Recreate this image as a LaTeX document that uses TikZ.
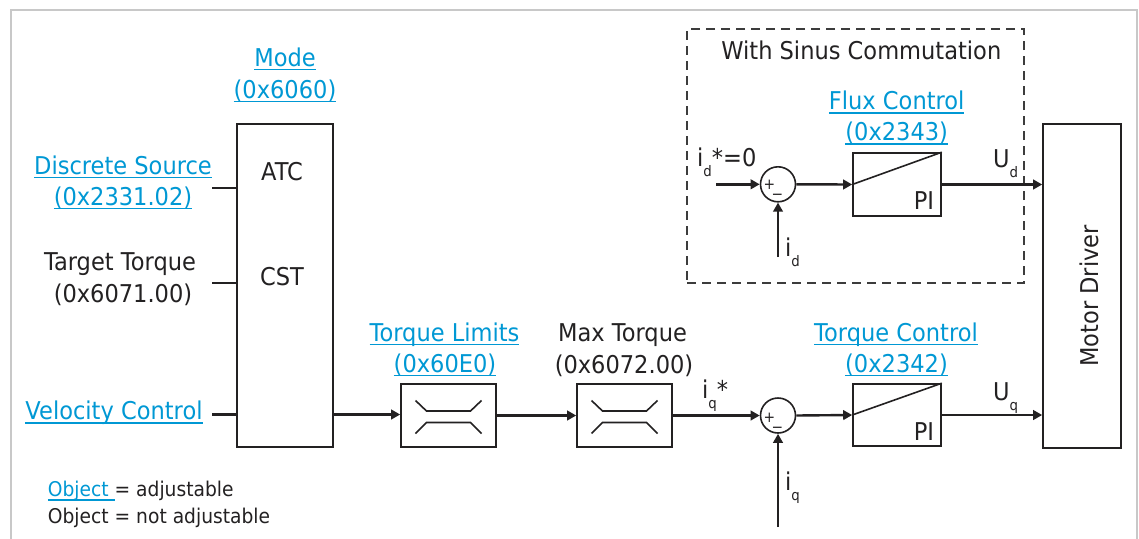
\documentclass[tikz,border=0pt]{standalone}
\usepackage{fontspec}
\setmainfont[FakeStretch=0.92]{DejaVu Sans}
\usetikzlibrary{arrows.meta,calc}
\definecolor{lnkblue}{RGB}{0,152,212}
\definecolor{ink}{RGB}{35,33,34}
\definecolor{framegray}{RGB}{200,200,200}
\definecolor{dashgray}{RGB}{60,60,60}
\newcommand{\ulnk}[1]{\setbox0=\hbox{#1}\rlap{\rule[-4.2pt]{\wd0}{1.6pt}}\box0}
\newcommand{\sbs}[1]{\raisebox{-10pt}{\fontsize{14.5}{14.5}\selectfont #1}}
\begin{document}
\begin{tikzpicture}[x=1pt,y=-1pt,
  txt/.style={font=\fontsize{24.5}{30}\selectfont, text=ink, inner sep=0pt, anchor=base},
  link/.style={txt, text=lnkblue},
  legend/.style={font=\fontsize{20.3}{24}\selectfont, text=ink, inner sep=0pt, anchor=base west},
  pm/.style={font=\fontsize{15}{15}\selectfont, text=ink, inner sep=0pt, anchor=base},
  blk/.style={draw=ink, line width=1.6pt, inner sep=0pt, fill=white},
  sumc/.style={circle, draw=ink, line width=1.6pt, inner sep=0pt, minimum size=35pt, fill=white},
  conn/.style={line width=2.4pt, draw=ink},
  arr/.style={conn, -{Triangle[length=9pt,width=9.5pt]}},
  sym/.style={line width=1.6pt, draw=ink},
  dashbox/.style={draw=dashgray, line width=1.6pt, dash pattern=on 9pt off 6pt, inner sep=0pt}
]
\useasboundingbox (0,0) rectangle (1139,538);
\draw[framegray, line width=2pt] (11,560) -- (11,10) -- (1137,10) -- (1137,560);

% dashed region
\node[dashbox, minimum width=337pt, minimum height=254pt] (sinus) at (855.5,156) {};
\node[txt] (wsc) at (861.3,59.3) {With Sinus Commutation};

% mode block
\node[blk, minimum width=96pt, minimum height=323pt] (mode) at (285,285.5) {};
\node[link] (modeA) at (285,66) {\ulnk{Mode}};
\node[link] (modeB) at (285,98) {\ulnk{(0x6060)}};
\node[txt] (atc) at (282,180) {ATC};
\node[txt] (cst) at (282,285.5) {CST};

% inputs
\node[link] (dsA) at (123,174) {\ulnk{Discrete Source}};
\node[link] (dsB) at (123,205) {\ulnk{(0x2331.02)}};
\node[txt] (ttA) at (120,270) {Target Torque};
\node[txt] (ttB) at (123,302) {(0x6071.00)};
\node[link] (vc) at (114,419.3) {\ulnk{Velocity Control}};
\coordinate (inDS) at (212,188);
\coordinate (inTT) at (212,282.7);
\coordinate (inVC) at (212,414.5);
\draw[conn] (inDS) -- (inDS -| mode.west);
\draw[conn] (inTT) -- (inTT -| mode.west);
\draw[conn] (inVC) -- (inVC -| mode.west);

% limiter blocks
\node[blk, minimum width=95pt, minimum height=63pt] (lim) at (448.5,415.5) {};
\node[blk, minimum width=95pt, minimum height=63pt] (maxt) at (624.5,415.5) {};
\foreach \b in {lim,maxt} {
  \draw[sym] ($(\b.center)+(-33,-15)$) -- ++(11,10.5) -- ++(44,0) -- ++(11,-10.5);
  \draw[sym] ($(\b.center)+(-33,18)$) -- ++(11,-11) -- ++(44,0) -- ++(11,11);
}
\node[link] (tlA) at (444.5,341) {\ulnk{Torque Limits}};
\node[link] (tlB) at (445,372) {\ulnk{(0x60E0)}};
\node[txt] (mtA) at (622.5,341) {Max Torque};
\node[txt] (mtB) at (624,373) {(0x6072.00)};

% q summing junction
\node[sumc] (sq) at (778,415.5) {};
\node[pm] (sqp) at (769.3,422.3) {+};
\node[pm] (sqm) at (777.5,432.5) {−};
\node[txt, anchor=base west] (iqs) at (702,398.3) {i\sbs{q}*};
\coordinate (iqin) at (778,527);
\node[txt, anchor=base west] (iql) at (785,490.7) {i\sbs{q}};

% torque control
\node[blk, minimum width=88pt, minimum height=62pt] (tc) at (897,415) {};
\draw[sym] (tc.west) -- (tc.north east);
\node[txt] (tcPI) at (924,440.7) {PI};
\node[link] (tcA) at (896,341) {\ulnk{Torque Control}};
\node[link] (tcB) at (896.5,372) {\ulnk{(0x2342)}};

% motor driver
\node[blk, minimum width=78pt, minimum height=324pt] (md) at (1082,286) {};
\node[txt, rotate=90, anchor=base] (mdt) at (1098,296) {Motor Driver};
\node[txt, anchor=base west] (uq) at (993,400) {U\sbs{q}};

% flux section
\node[link] (fcA) at (896.7,109.3) {\ulnk{Flux Control}};
\node[link] (fcB) at (896.7,140.5) {\ulnk{(0x2343)}};
\node[blk, minimum width=88pt, minimum height=63pt] (fc) at (897,184.5) {};
\draw[sym] (fc.west) -- (fc.north east);
\node[txt] (fcPI) at (924,209) {PI};
\node[sumc] (sd) at (778,184.3) {};
\node[pm] (sdp) at (769.5,189.5) {+};
\node[pm] (sdm) at (777.5,199.8) {−};
\coordinate (idin) at (716,184.3);
\node[txt, anchor=base west] (ids) at (697,166.7) {i\sbs{d}*=0};
\coordinate (idfb) at (778,257);
\node[txt, anchor=base west] (idl) at (785,256.7) {i\sbs{d}};
\node[txt, anchor=base west] (ud) at (993,167.3) {U\sbs{d}};

% connectors
\draw[arr] (mode.east |- inVC) -- (inVC -| lim.west);
\draw[arr] (lim.east) -- (maxt.west);
\draw[arr] (maxt.east) -- (sq.west);
\draw[arr] (iqin) -- (sq.south);
\draw[arr] (sq.east) -- (tc.west);
\draw[arr] (tc.east) -- (tc.east -| md.west);
\draw[arr] (idin) -- (sd.west);
\draw[arr] (idfb) -- (sd.south);
\draw[arr] (sd.east) -- (fc.west);
\draw[arr] (fc.east) -- (fc.east -| md.west);

% legend
\node[legend] (lg1) at (47.7,496.7) {\textcolor{lnkblue}{\ulnk{Object\ }}= adjustable};
\node[legend] (lg2) at (47.7,523.3) {Object = not adjustable};
\end{tikzpicture}
\end{document}
